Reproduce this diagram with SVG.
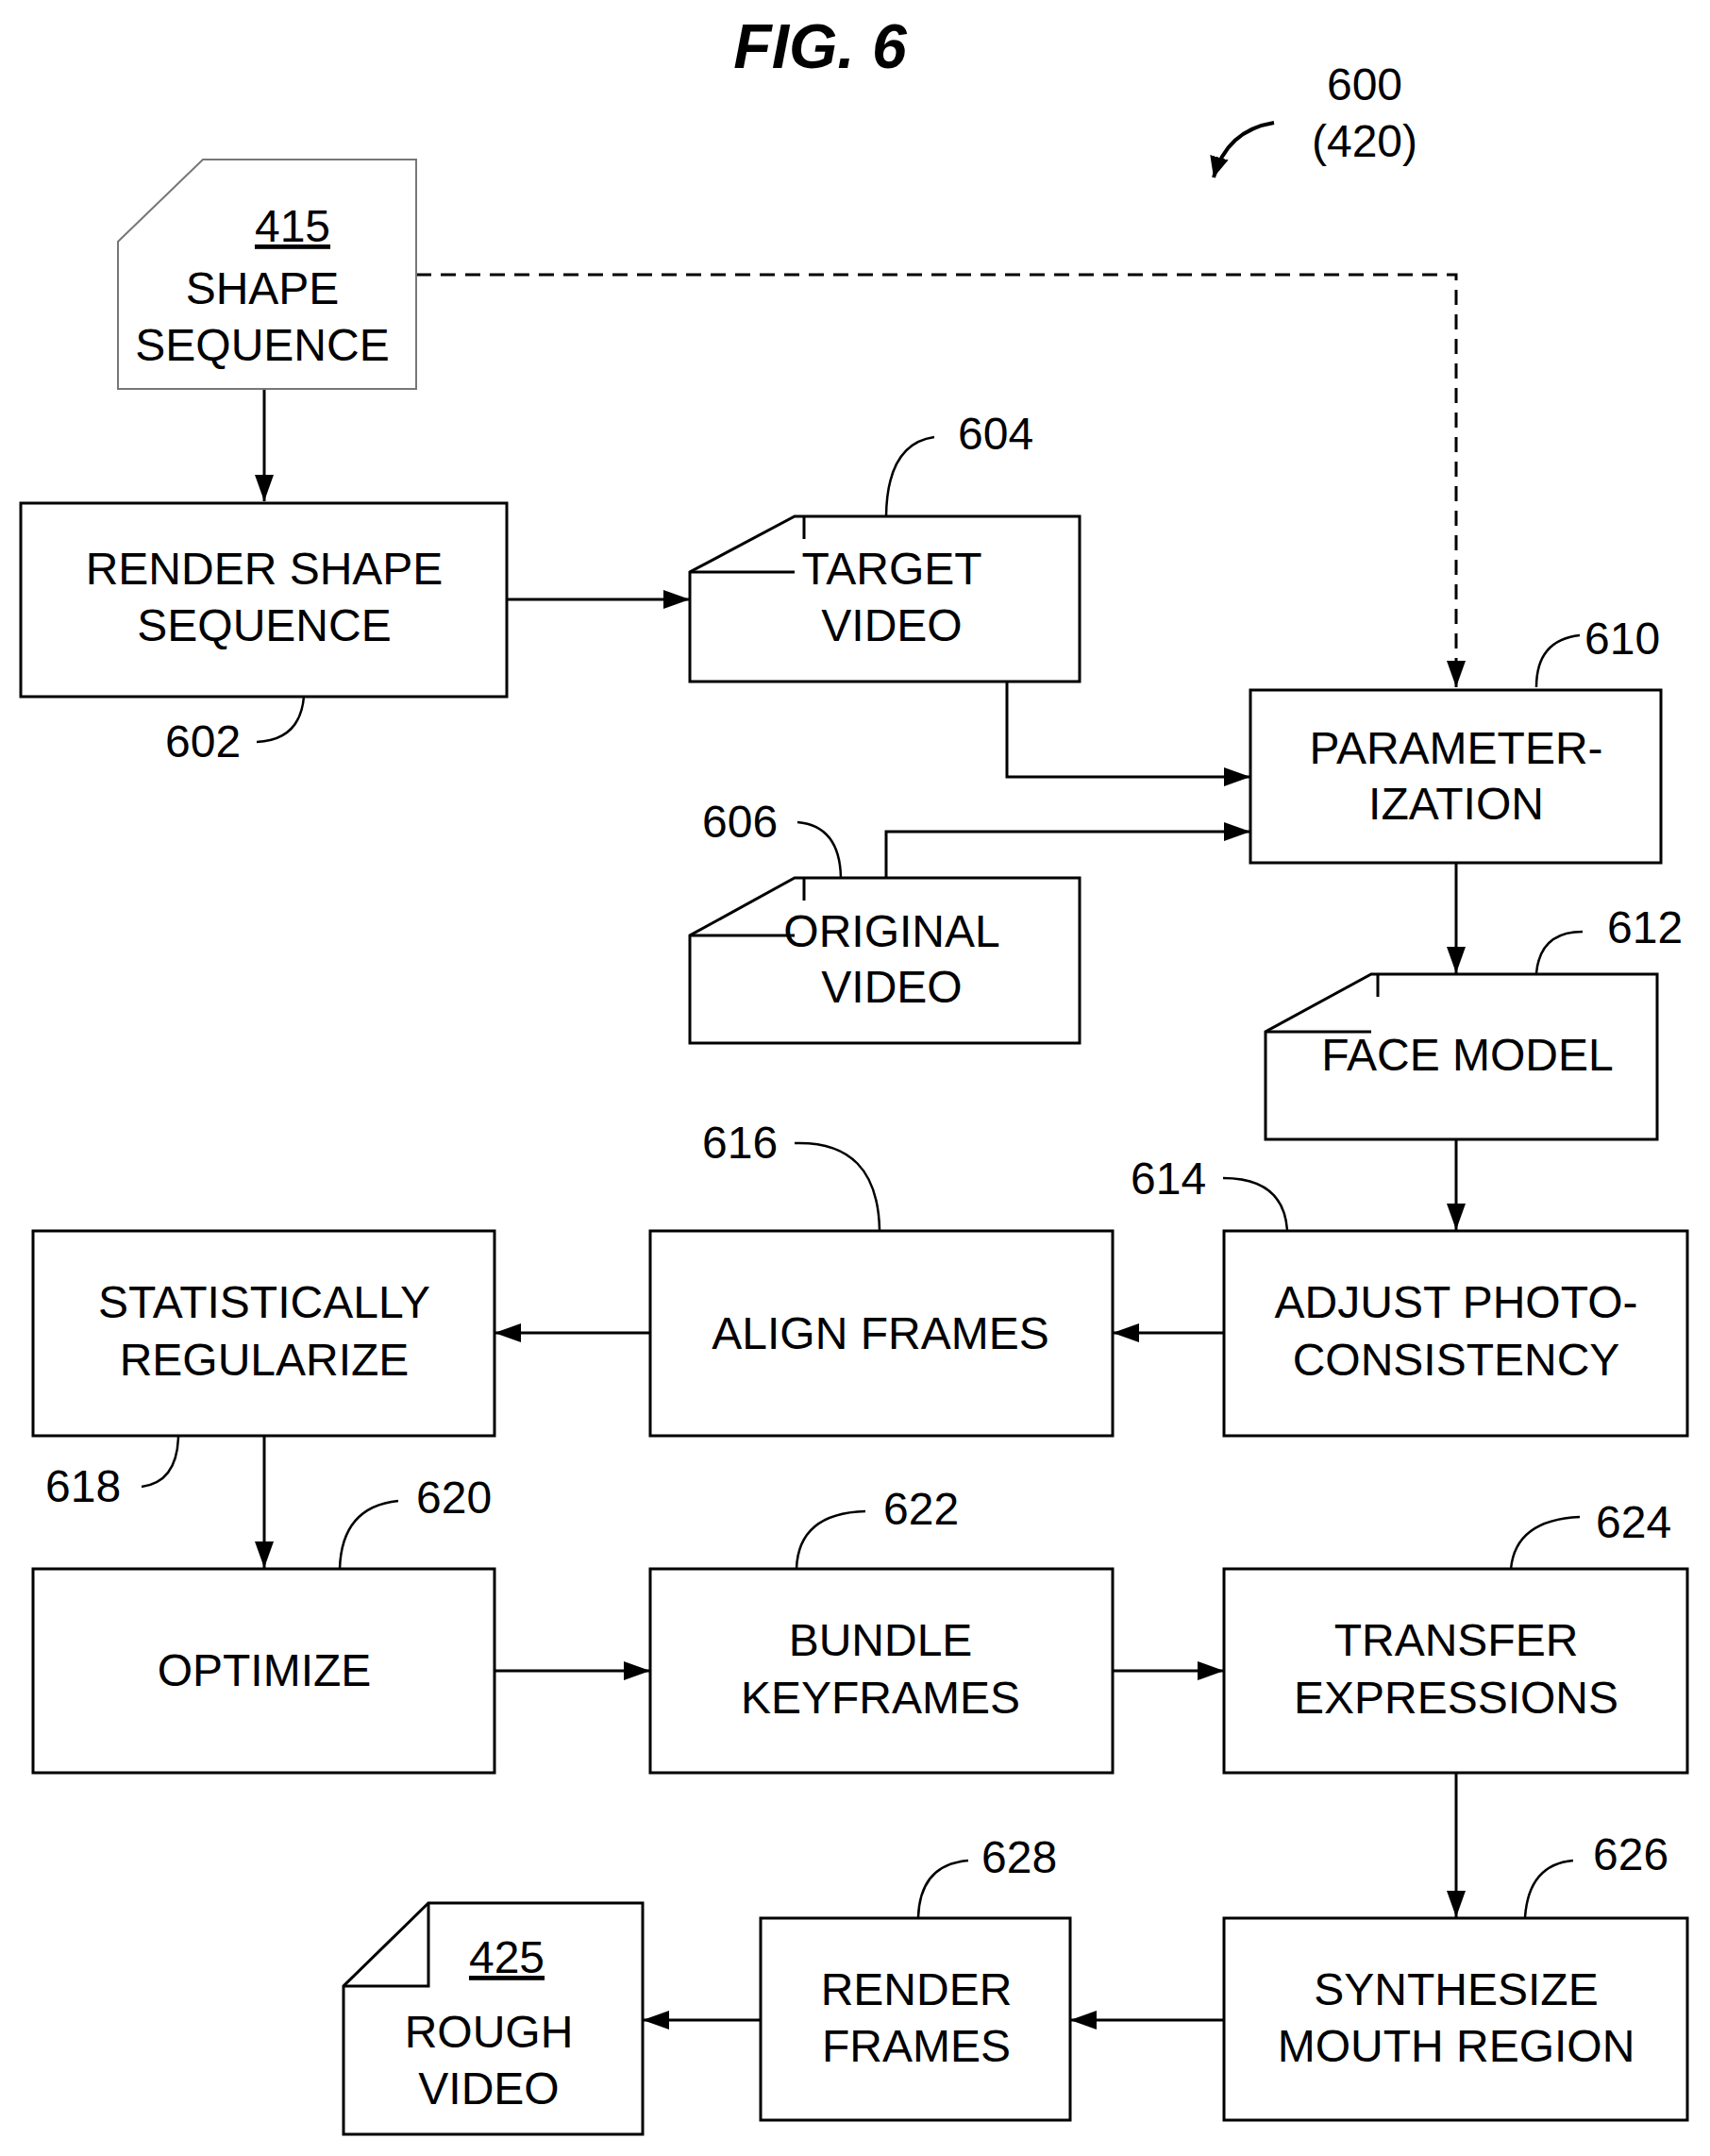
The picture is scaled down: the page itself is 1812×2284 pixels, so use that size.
<svg xmlns="http://www.w3.org/2000/svg" width="1812" height="2284" viewBox="0 0 1812 2284">
<defs>
<marker id="ah" viewBox="0 0 10 10" refX="10" refY="5" markerWidth="22" markerHeight="20" markerUnits="userSpaceOnUse" orient="auto" preserveAspectRatio="none"><path d="M0,0 L10,5 L0,10 z" fill="#000"/></marker>
<marker id="a" viewBox="0 0 10 10" refX="10" refY="5" markerWidth="28" markerHeight="20" markerUnits="userSpaceOnUse" orient="auto" preserveAspectRatio="none"><path d="M0,0 L10,5 L0,10 z" fill="#000"/></marker>
<style>
text{font-family:"Liberation Sans",Arial,sans-serif;font-size:48px;text-anchor:middle;fill:#000}
.box{fill:#fff;stroke:#000;stroke-width:3}
.ln{fill:none;stroke:#000;stroke-width:3}
.lead{fill:none;stroke:#000;stroke-width:2.5}
.ref{text-anchor:start}
</style>
</defs>
<rect width="1812" height="2284" fill="#fff"/>
<text x="869" y="72" style="font-size:66px;font-weight:bold;font-style:italic">FIG. 6</text>
<text x="1446" y="106">600</text>
<text x="1446" y="166">(420)</text>
<path d="M1350,130 Q1300,138 1286,188" fill="none" stroke="#000" stroke-width="4" marker-end="url(#ah)"/>

<g id="connectors">
<path class="ln" d="M441,291 H1543 V728" stroke-dasharray="16,10" marker-end="url(#a)"/>
<path class="ln" d="M280,412 V531" marker-end="url(#a)"/>
<path class="ln" d="M537,635 H731" marker-end="url(#a)"/>
<path class="ln" d="M1067,722 V823 H1325" marker-end="url(#a)"/>
<path class="ln" d="M939,930 V881 H1325" marker-end="url(#a)"/>
<path class="ln" d="M1543,914 V1031" marker-end="url(#a)"/>
<path class="ln" d="M1543,1207 V1303" marker-end="url(#a)"/>
<path class="ln" d="M1297,1412 H1179" marker-end="url(#a)"/>
<path class="ln" d="M689,1412 H524" marker-end="url(#a)"/>
<path class="ln" d="M280,1521 V1661" marker-end="url(#a)"/>
<path class="ln" d="M524,1770 H689" marker-end="url(#a)"/>
<path class="ln" d="M1179,1770 H1297" marker-end="url(#a)"/>
<path class="ln" d="M1543,1878 V2031" marker-end="url(#a)"/>
<path class="ln" d="M1297,2140 H1134" marker-end="url(#a)"/>
<path class="ln" d="M806,2140 H681" marker-end="url(#a)"/>
</g>

<g id="n415">
<path d="M215,169 H441 V412 H125 V256 Z" fill="#fff" stroke="#777" stroke-width="2"/>
<text x="310" y="256" text-decoration="underline">415</text>
<text x="278" y="322">SHAPE</text>
<text x="278" y="382">SEQUENCE</text>
</g>
<g id="n602">
<rect class="box" x="22" y="533" width="515" height="205"/>
<text x="280" y="619">RENDER SHAPE</text>
<text x="280" y="679">SEQUENCE</text>
<text class="ref" x="175" y="802">602</text>
<path class="lead" d="M272,786 Q318,784 322,738"/>
</g>
<g id="n604">
<path class="box" d="M842,547 H1144 V722 H731 V606 Z"/>
<path class="ln" d="M852,547 V571 M731,606 H842"/>
<text x="945" y="619">TARGET</text>
<text x="945" y="679">VIDEO</text>
<text class="ref" x="1015" y="476">604</text>
<path class="lead" d="M939,547 Q940,470 990,463"/>
</g>
<g id="n610">
<rect class="box" x="1325" y="731" width="435" height="183"/>
<text x="1543" y="809">PARAMETER-</text>
<text x="1543" y="868">IZATION</text>
<text class="ref" x="1679" y="693">610</text>
<path class="lead" d="M1628,728 Q1628,678 1674,673"/>
</g>
<g id="n606">
<path class="box" d="M842,930 H1144 V1105 H731 V991 Z"/>
<path class="ln" d="M852,930 V954 M731,991 H842"/>
<text x="945" y="1003">ORIGINAL</text>
<text x="945" y="1062">VIDEO</text>
<text class="ref" x="744" y="887">606</text>
<path class="lead" d="M845,871 Q890,875 891,930"/>
</g>
<g id="n612">
<path class="box" d="M1453,1032 H1756 V1207 H1341 V1093 Z"/>
<path class="ln" d="M1460,1032 V1056 M1341,1093 H1453"/>
<text x="1555" y="1134">FACE MODEL</text>
<text class="ref" x="1703" y="999">612</text>
<path class="lead" d="M1628,1031 Q1632,987 1677,987"/>
</g>
<g id="n614">
<rect class="box" x="1297" y="1304" width="491" height="217"/>
<text x="1543" y="1396">ADJUST PHOTO-</text>
<text x="1543" y="1457">CONSISTENCY</text>
<text class="ref" x="1198" y="1265">614</text>
<path class="lead" d="M1296,1248 Q1360,1248 1364,1303"/>
</g>
<g id="n616">
<rect class="box" x="689" y="1304" width="490" height="217"/>
<text x="933" y="1429">ALIGN FRAMES</text>
<text class="ref" x="744" y="1227">616</text>
<path class="lead" d="M842,1211 Q930,1208 932,1303"/>
</g>
<g id="n618">
<rect class="box" x="35" y="1304" width="489" height="217"/>
<text x="280" y="1396">STATISTICALLY</text>
<text x="280" y="1457">REGULARIZE</text>
<text class="ref" x="48" y="1591">618</text>
<path class="lead" d="M150,1575 Q188,1570 189,1521"/>
</g>
<g id="n620">
<rect class="box" x="35" y="1662" width="489" height="216"/>
<text x="280" y="1786">OPTIMIZE</text>
<text class="ref" x="441" y="1603">620</text>
<path class="lead" d="M360,1662 Q362,1596 422,1590"/>
</g>
<g id="n622">
<rect class="box" x="689" y="1662" width="490" height="216"/>
<text x="933" y="1754">BUNDLE</text>
<text x="933" y="1815">KEYFRAMES</text>
<text class="ref" x="936" y="1615">622</text>
<path class="lead" d="M844,1662 Q846,1603 917,1601"/>
</g>
<g id="n624">
<rect class="box" x="1297" y="1662" width="491" height="216"/>
<text x="1543" y="1754">TRANSFER</text>
<text x="1543" y="1815">EXPRESSIONS</text>
<text class="ref" x="1691" y="1629">624</text>
<path class="lead" d="M1601,1662 Q1606,1610 1674,1607"/>
</g>
<g id="n626">
<rect class="box" x="1297" y="2032" width="491" height="214"/>
<text x="1543" y="2124">SYNTHESIZE</text>
<text x="1543" y="2184">MOUTH REGION</text>
<text class="ref" x="1688" y="1981">626</text>
<path class="lead" d="M1616,2031 Q1620,1975 1667,1971"/>
</g>
<g id="n628">
<rect class="box" x="806" y="2032" width="328" height="214"/>
<text x="971" y="2124">RENDER</text>
<text x="971" y="2184">FRAMES</text>
<text class="ref" x="1040" y="1984">628</text>
<path class="lead" d="M973,2031 Q975,1975 1026,1971"/>
</g>
<g id="n425">
<path class="box" d="M454,2016 H681 V2261 H364 V2104 Z"/>
<path class="ln" d="M454,2016 V2104 H364"/>
<text x="537" y="2090" text-decoration="underline">425</text>
<text x="518" y="2169">ROUGH</text>
<text x="518" y="2229">VIDEO</text>
</g>
</svg>
